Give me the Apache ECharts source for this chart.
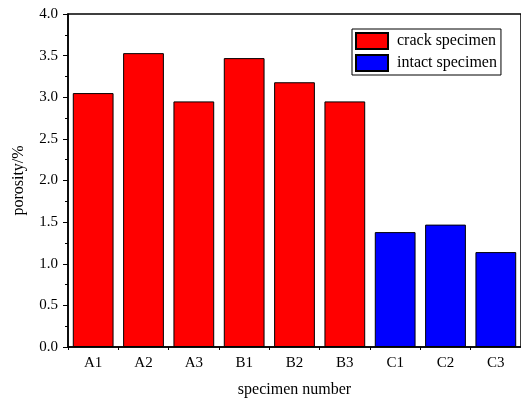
<!DOCTYPE html>
<html><head><meta charset="utf-8">
<script src="https://cdn.jsdelivr.net/npm/echarts@6/dist/echarts.min.js"></script>
<style>html,body{margin:0;padding:0;background:#fff}#c{width:521px;height:403px}</style>
</head><body><div id="c"></div>
<script>
const categories = ['A1','A2','A3','B1','B2','B3','C1','C2','C3'];
const crackValues = [3.05, 3.53, 2.95, 3.47, 3.18, 2.95, null, null, null];
const intactValues = [null, null, null, null, null, null, 1.38, 1.47, 1.14];
const yTicks = [0, 0.5, 1.0, 1.5, 2.0, 2.5, 3.0, 3.5, 4.0];

const font = 'Liberation Serif, Times New Roman, serif';
const chart = echarts.init(document.getElementById('c'), null, {renderer:'canvas'});
chart.setOption({
  animation: false,
  backgroundColor: '#fff',
  grid: {left: 68, width: 457, top: 14, bottom: 56, show: true, borderColor: '#000', borderWidth: 1.5, backgroundColor: 'transparent'},
  legend: {
    orient: 'vertical', left: 352, top: 29,
    itemWidth: 32, itemHeight: 16, itemGap: 4, padding: [3, 4, 3, 3],
    borderColor: '#000', borderWidth: 1,
    icon: 'rect',
    textStyle: {fontFamily: font, fontSize: 16, color: '#000', padding: [0,0,0,4]},
    data: ['crack specimen', 'intact specimen']
  },
  xAxis: [{
    type: 'category', data: categories,
    name: 'specimen number', nameLocation: 'middle', nameGap: 35,
    nameTextStyle: {fontFamily: font, fontSize: 16, color: '#000'},
    axisLine: {lineStyle: {color: '#000', width: 1.5}},
    axisTick: {alignWithLabel: true, length: 5, lineStyle: {color: '#000', width: 1}},
    axisLabel: {fontFamily: font, fontSize: 15, color: '#000', margin: 9},
    splitLine: {show: false}
  }, {
    type: 'category', data: categories, position: 'bottom',
    axisLine: {show: false},
    axisTick: {show: true, length: 3, lineStyle: {color: '#000', width: 1}},
    axisLabel: {show: false}
  }],
  yAxis: {
    type: 'value', min: 0, max: 4, interval: 0.5,
    name: 'porosity/%', nameLocation: 'middle', nameGap: 41,
    nameTextStyle: {fontFamily: font, fontSize: 16, color: '#000'},
    axisLine: {show: true, lineStyle: {color: '#000', width: 1.5}},
    axisTick: {show: true, length: 5, lineStyle: {color: '#000', width: 1}},
    minorTick: {show: true, splitNumber: 2, length: 3, lineStyle: {color: '#000', width: 1}},
    axisLabel: {fontFamily: font, fontSize: 15, color: '#000', margin: 10,
      formatter: v => yTicks.includes(v) ? v.toFixed(1) : ''},
    splitLine: {show: false}
  },
  series: [{
    name: 'crack specimen', type: 'bar', data: crackValues,
    barWidth: '81%', barGap: '-100%',
    itemStyle: {color: '#ff0000', borderColor: '#000', borderWidth: 1}
  }, {
    name: 'intact specimen', type: 'bar', data: intactValues,
    barWidth: '81%', barGap: '-100%',
    itemStyle: {color: '#0000ff', borderColor: '#000', borderWidth: 1}
  }]
});
</script></body></html>
